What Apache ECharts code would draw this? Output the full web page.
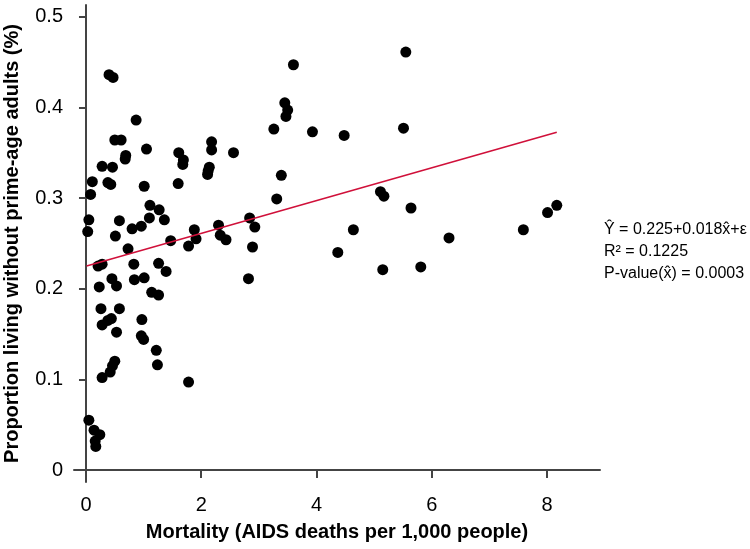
<!DOCTYPE html>
<html><head><meta charset="utf-8">
<script src="https://cdn.jsdelivr.net/npm/echarts@6/dist/echarts.min.js"></script>
<style>html,body{margin:0;padding:0;background:#fff}#c{width:750px;height:549px}</style>
</head><body><div id="c"></div>
<script>
// Mortality (AIDS deaths per 1,000 people)
const mortality = [
0.40,0.47,0.87,0.50,0.61,1.05,0.69,0.68,0.28,0.46,0.11,0.38,0.43,1.01,0.08,
1.61,1.69,1.68,1.60,2.18,2.18,2.56,2.14,2.12,2.11,
3.60,5.55,3.45,3.50,3.47,3.26,3.93,4.48,5.51,3.39,3.31,5.11,5.17,5.64,2.93,4.64,6.30,7.59,8.01,8.17,4.37,2.84,2.89,5.15,5.81,2.82,
1.11,1.27,0.05,0.58,1.10,1.36,0.96,0.80,0.03,0.51,1.47,0.73,0.21,0.28,0.83,1.26,1.39,0.45,0.53,0.84,1.01,0.23,1.14,1.26,0.26,0.58,0.44,0.38,0.28,0.97,
1.78,1.88,1.91,2.30,2.33,2.43,
0.53,0.96,1.00,1.22,1.24,0.50,0.46,0.42,0.28,1.78,0.05,0.14,0.24,0.16,0.17
];
// Proportion living without prime-age adults
const proportion = [
0.436,0.433,0.386,0.364,0.364,0.354,0.347,0.343,0.335,0.334,0.318,0.317,0.315,0.313,0.304,
0.350,0.342,0.337,0.316,0.362,0.353,0.350,0.334,0.330,0.326,
0.447,0.461,0.405,0.397,0.390,0.376,0.373,0.369,0.377,0.325,0.299,0.307,0.302,0.289,0.268,0.265,0.256,0.265,0.284,0.292,0.240,0.278,0.246,0.221,0.224,0.211,
0.292,0.287,0.276,0.275,0.278,0.276,0.269,0.266,0.263,0.258,0.253,0.244,0.225,0.227,0.227,0.228,0.219,0.211,0.203,0.210,0.212,0.202,0.196,0.193,0.178,0.178,0.167,0.165,0.160,0.166,
0.247,0.265,0.255,0.270,0.259,0.254,
0.152,0.148,0.144,0.132,0.116,0.120,0.115,0.108,0.102,0.097,0.055,0.044,0.039,0.032,0.026
];
// Fitted line endpoints (Ŷ = 0.225 + 0.018x̂)
const fitX = [0.01, 8.17];
const fitY = [0.225, 0.3725];
const xTicks = [0, 2, 4, 6, 8];
const yTicks = [0, 0.1, 0.2, 0.3, 0.4, 0.5];
const annotation = ['Ŷ = 0.225+0.018x̂+ε', 'R² = 0.1225', 'P-value(x̂) = 0.0003'];

const points = mortality.map((x, i) => [x, proportion[i]]);
const fit = fitX.map((x, i) => [x, fitY[i]]);
const FONT = 'Liberation Sans, Arial, sans-serif';
const axisLineStyle = { color: '#444', width: 2 };

const chart = echarts.init(document.getElementById('c'), null, { renderer: 'canvas' });
chart.setOption({
  animation: false,
  backgroundColor: '#fff',
  grid: { left: 74, right: 150, top: 5, bottom: 67, containLabel: false, outerBoundsMode: 'none' },
  xAxis: {
    type: 'value', min: -0.208, max: 8.92,
    name: 'Mortality (AIDS deaths per 1,000 people)',
    nameLocation: 'middle', nameGap: 40,
    nameTextStyle: { fontFamily: FONT, fontSize: 20, fontWeight: 'bold', color: '#000' },
    axisLine: { show: true, lineStyle: axisLineStyle },
    axisTick: { show: true, length: 8, customValues: xTicks, lineStyle: axisLineStyle },
    axisLabel: { customValues: xTicks, margin: 13, fontFamily: FONT, fontSize: 20, color: '#000',
      formatter: v => String(v) },
    splitLine: { show: false }
  },
  yAxis: {
    type: 'value', min: -0.0132, max: 0.5129,
    name: 'Proportion living without prime-age adults (%)',
    nameLocation: 'middle', nameGap: 52, nameRotate: 90,
    nameTextStyle: { fontFamily: FONT, fontSize: 20, fontWeight: 'bold', color: '#000' },
    axisLine: { show: true, lineStyle: axisLineStyle },
    axisTick: { show: true, length: 7, customValues: yTicks, lineStyle: axisLineStyle },
    axisLabel: { customValues: yTicks, margin: 11, fontFamily: FONT, fontSize: 20, color: '#000',
      formatter: v => (Math.abs(v) < 1e-9 ? '0' : v.toFixed(1)) },
    splitLine: { show: false }
  },
  series: [
    { type: 'scatter', data: points, symbolSize: 11, itemStyle: { color: '#000', opacity: 1 }, z: 3 },
    { type: 'line', data: fit, symbol: 'none', lineStyle: { color: '#d0103a', width: 1.6 }, z: 4 }
  ],
  graphic: annotation.map((t, i) => ({
    type: 'text', left: 604, top: 222 + i * 22,
    style: { text: t, fontFamily: FONT, fontSize: 16, fill: '#000' }
  }))
});
</script></body></html>
